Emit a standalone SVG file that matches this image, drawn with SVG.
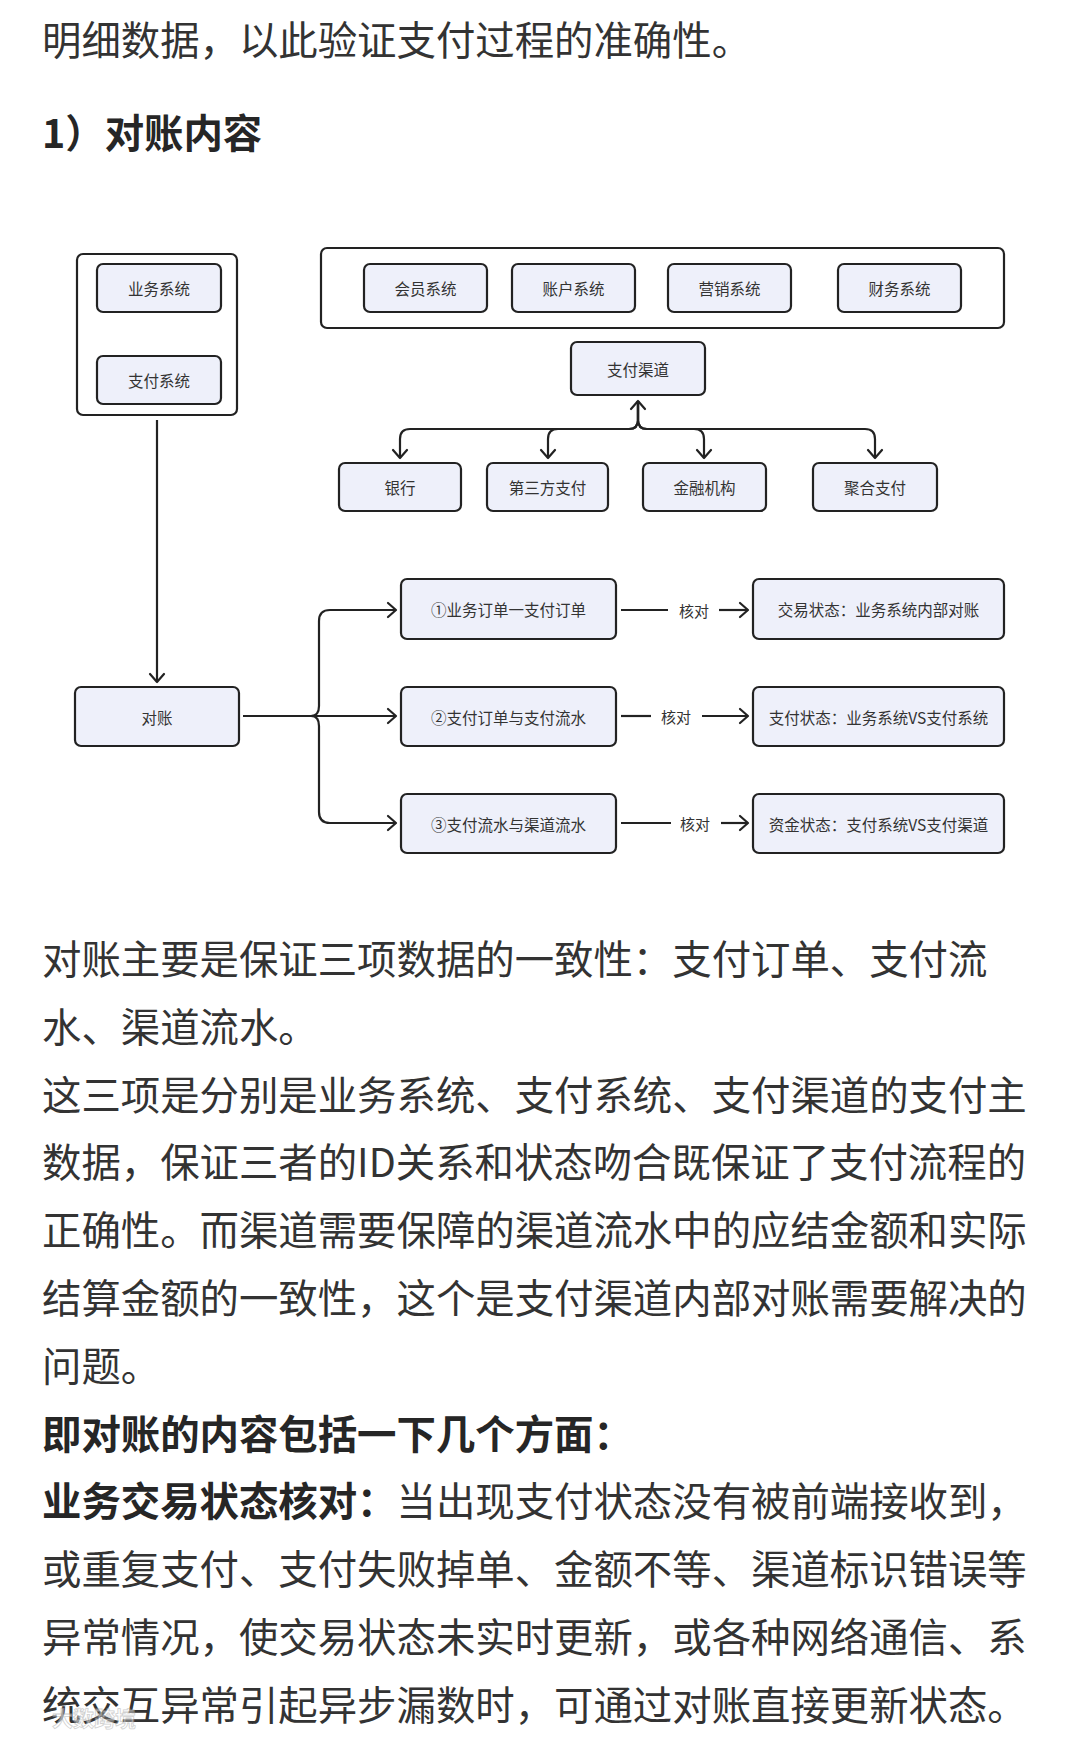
<svg xmlns="http://www.w3.org/2000/svg" width="1080" height="1739" viewBox="0 0 1080 1739">
<defs>
<style>
.body{font-family:"Noto Sans CJK SC","Noto Sans",sans-serif;font-size:39.4px;fill:#333;}
.b{font-weight:700;fill:#262626;}
.lbl{font-family:"Noto Sans CJK SC","Noto Sans",sans-serif;font-size:15.5px;fill:#333;text-anchor:middle;dominant-baseline:central;}
.node{fill:#eef0fa;stroke:#222;stroke-width:2.2;}
.cont{fill:#fff;stroke:#222;stroke-width:2.2;}
.edge{fill:none;stroke:#222;stroke-width:2.2;stroke-linejoin:round;}
</style>
<marker id="ah" markerUnits="userSpaceOnUse" markerWidth="24" markerHeight="24" viewBox="-12 -12 24 24" refX="0" refY="0" orient="auto-start-reverse">
<path d="M-8,-7 L0,0 L-8,7" fill="none" stroke="#222" stroke-width="2.2" stroke-linecap="round" stroke-linejoin="round"/>
</marker>
</defs>
<rect width="1080" height="1739" fill="#fff"/>

<g id="intro">
<text class="body" x="42" y="55">明细数据，以此验证支付过程的准确性。</text>
<text class="body b" x="42" y="148">1）对账内容</text>
</g>

<g id="containers">
<rect id="left-container" class="cont" x="77" y="254" width="160" height="161" rx="6"/>
<rect id="top-container" class="cont" x="321" y="248" width="683" height="80" rx="6"/>
</g>

<g id="n-biz"><rect class="node" x="97" y="264" width="124" height="48" rx="6"/><text class="lbl" x="159" y="288">业务系统</text></g>
<g id="n-pay"><rect class="node" x="97" y="356" width="124" height="48" rx="6"/><text class="lbl" x="159" y="380">支付系统</text></g>
<g id="n-member"><rect class="node" x="364" y="264" width="123" height="48" rx="6"/><text class="lbl" x="425.5" y="288">会员系统</text></g>
<g id="n-account"><rect class="node" x="512" y="264" width="123" height="48" rx="6"/><text class="lbl" x="573.5" y="288">账户系统</text></g>
<g id="n-market"><rect class="node" x="668" y="264" width="123" height="48" rx="6"/><text class="lbl" x="729.5" y="288">营销系统</text></g>
<g id="n-finance"><rect class="node" x="838" y="264" width="123" height="48" rx="6"/><text class="lbl" x="899.5" y="288">财务系统</text></g>
<g id="n-channel"><rect class="node" x="571" y="342" width="134" height="53" rx="6"/><text class="lbl" x="638" y="368.5">支付渠道</text></g>
<g id="n-bank"><rect class="node" x="339" y="463" width="122" height="48" rx="6"/><text class="lbl" x="400" y="487">银行</text></g>
<g id="n-third"><rect class="node" x="487" y="463" width="121" height="48" rx="6"/><text class="lbl" x="547.5" y="487">第三方支付</text></g>
<g id="n-fin"><rect class="node" x="643" y="463" width="123" height="48" rx="6"/><text class="lbl" x="704.5" y="487">金融机构</text></g>
<g id="n-agg"><rect class="node" x="813" y="463" width="124" height="48" rx="6"/><text class="lbl" x="875" y="487">聚合支付</text></g>
<g id="n-recon"><rect class="node" x="75" y="687" width="164" height="59" rx="6"/><text class="lbl" x="157" y="716.5">对账</text></g>
<g id="n-r1"><rect class="node" x="401" y="579" width="215" height="60" rx="6"/><text class="lbl" x="508.5" y="609">①业务订单一支付订单</text></g>
<g id="n-r2"><rect class="node" x="401" y="687" width="215" height="59" rx="6"/><text class="lbl" x="508.5" y="716.5">②支付订单与支付流水</text></g>
<g id="n-r3"><rect class="node" x="401" y="794" width="215" height="59" rx="6"/><text class="lbl" x="508.5" y="823.5">③支付流水与渠道流水</text></g>
<g id="n-s1"><rect class="node" x="753" y="579" width="251" height="60" rx="6"/><text class="lbl" x="878.5" y="609">交易状态：业务系统内部对账</text></g>
<g id="n-s2"><rect class="node" x="753" y="687" width="251" height="59" rx="6"/><text class="lbl" x="878.5" y="716.5">支付状态：业务系统VS支付系统</text></g>
<g id="n-s3"><rect class="node" x="753" y="794" width="251" height="59" rx="6"/><text class="lbl" x="878.5" y="823.5">资金状态：支付系统VS支付渠道</text></g>

<g id="connectors">
<path class="edge" d="M157,420 V682" marker-end="url(#ah)"/>
<path class="edge" d="M638,401 V420 Q638,429 629,429 H410 Q400,429 400,439 V458" marker-start="url(#ah)" marker-end="url(#ah)"/>
<path class="edge" d="M638,401 V420 Q638,429 629,429 H558 Q548,429 548,439 V458" marker-end="url(#ah)"/>
<path class="edge" d="M638,401 V420 Q638,429 647,429 H694 Q704,429 704,439 V458" marker-end="url(#ah)"/>
<path class="edge" d="M638,401 V420 Q638,429 647,429 H865 Q875,429 875,439 V458" marker-end="url(#ah)"/>
<path class="edge" d="M243,716 H311 Q319,716 319,706 V621 Q319,610 330,610 H396" marker-end="url(#ah)"/>
<path class="edge" d="M243,716 H396" marker-end="url(#ah)"/>
<path class="edge" d="M243,716 H311 Q319,716 319,726 V812 Q319,823 330,823 H396" marker-end="url(#ah)"/>
<path class="edge" d="M621,610 H668"/>
<path class="edge" d="M719,610 H748" marker-end="url(#ah)"/>
<text class="lbl" x="694" y="610" style="font-size:15px">核对</text>
<path class="edge" d="M621,716 H651"/>
<path class="edge" d="M702,716 H748" marker-end="url(#ah)"/>
<text class="lbl" x="676" y="716" style="font-size:15px">核对</text>
<path class="edge" d="M621,823 H671"/>
<path class="edge" d="M721,823 H748" marker-end="url(#ah)"/>
<text class="lbl" x="695" y="823" style="font-size:15px">核对</text>
</g>

<g id="body-text">
<text class="body" x="42" y="974">对账主要是保证三项数据的一致性：支付订单、支付流</text>
<text class="body" x="42" y="1042">水、渠道流水。</text>
<text class="body" x="42" y="1110">这三项是分别是业务系统、支付系统、支付渠道的支付主</text>
<text class="body" x="42" y="1177">数据，保证三者的ID关系和状态吻合既保证了支付流程的</text>
<text class="body" x="42" y="1245">正确性。而渠道需要保障的渠道流水中的应结金额和实际</text>
<text class="body" x="42" y="1313">结算金额的一致性，这个是支付渠道内部对账需要解决的</text>
<text class="body" x="42" y="1381">问题。</text>
<text class="body b" x="42" y="1449">即对账的内容包括一下几个方面：</text>
<text class="body" x="42" y="1516"><tspan class="b">业务交易状态核对：</tspan>当出现支付状态没有被前端接收到，</text>
<text class="body" x="42" y="1584">或重复支付、支付失败掉单、金额不等、渠道标识错误等</text>
<text class="body" x="42" y="1652">异常情况，使交易状态未实时更新，或各种网络通信、系</text>
<text class="body" x="42" y="1720">统交互异常引起异步漏数时，可通过对账直接更新状态。</text>
</g>

<g id="watermark" opacity="0.55">
<text x="52" y="1726" style="font-family:'Noto Sans CJK SC',sans-serif;font-size:21px;font-weight:700;fill:#fff;stroke:#aaa;stroke-width:0.8">大数跨境</text>
</g>
</svg>
